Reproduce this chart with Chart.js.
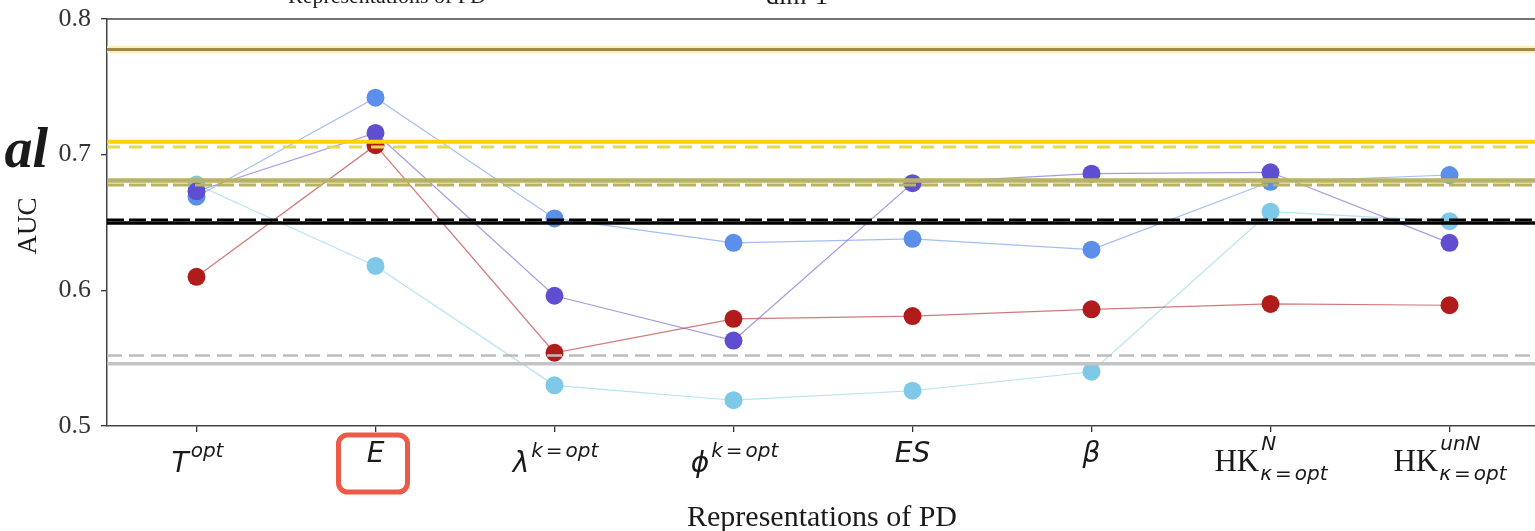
<!DOCTYPE html>
<html>
<head>
<meta charset="utf-8">
<script src="https://cdn.jsdelivr.net/npm/chart.js@4.4.0/dist/chart.umd.min.js"></script>
<style>
  html, body { margin: 0; padding: 0; background: #fff; overflow: hidden; width: 1535px; height: 531px; }
  #wrap { position: relative; width: 1539px; height: 531px; }
  canvas { position: absolute; left: 0; top: 0; }
</style>
</head>
<body>
<div id="wrap"><canvas id="c" width="1539" height="531"></canvas></div>
<script>
// ---- data ----
const categories = ['T^{opt}', 'E', 'λ^{k=opt}', 'ϕ^{k=opt}', 'ES', 'β', 'HK^{N}_{κ=opt}', 'HK^{unN}_{κ=opt}'];
const yTicks = [0.5, 0.6, 0.7, 0.8];

const seriesBlue      = [0.669, 0.742, 0.653, 0.635, 0.638, 0.630, 0.680, 0.685];
const seriesPurple    = [0.673, 0.716, 0.596, 0.563, 0.679, 0.686, 0.687, 0.635];
const seriesRed       = [0.610, 0.707, 0.554, 0.579, 0.581, 0.586, 0.590, 0.589];
const seriesLightBlue = [0.678, 0.618, 0.530, 0.519, 0.526, 0.540, 0.658, 0.651];

// horizontal reference levels
const refBrown       = 0.7775;
const refGoldSolid   = 0.7096;
const refGoldDashed  = 0.7057;
const refOliveSolid  = 0.681;
const refOliveDashed = 0.6777;
const refBlackDashed = 0.652;
const refBlackSolid  = 0.6496;
const refGrayDashed  = 0.5519;
const refGraySolid   = 0.5458;

const xTitle = 'Representations of PD';
const yTitle = 'AUC';

// ---- styles ----
const serif = "'Liberation Serif', 'Times New Roman', serif";
const sans = "'DejaVu Sans', sans-serif";

const refStyles = [
  { v: refBrown,       color: '#fbeec0', width: 7,   dash: [] },
  { v: refBrown,       color: '#a5874a', width: 3,   dash: [] },
  { v: refGoldDashed,  color: '#e8d84e', width: 3,   dash: [13, 9] },
  { v: refGoldSolid,   color: '#ffd200', width: 4,   dash: [] },
  { v: refOliveDashed, color: '#b8b262', width: 3,   dash: [17, 5] },
  { v: refOliveSolid,  color: '#b8b262', width: 4.5, dash: [] },
  { v: refBlackSolid,  color: '#000000', width: 3.5, dash: [] },
  { v: refBlackDashed, color: '#000000', width: 2.5, dash: [17, 5] },
  { v: refGraySolid,   color: '#c4c4c4', width: 3.5, dash: [] },
  { v: refGrayDashed,  color: '#bdbdbd', width: 2.5, dash: [15, 7] }
];

function lineSeries(data, color, lineColor, order) {
  return {
    data, order,
    borderColor: lineColor, borderWidth: 1.2,
    backgroundColor: color, pointBackgroundColor: color, pointBorderColor: color,
    pointRadius: 9, pointBorderWidth: 0, pointHoverRadius: 9,
    tension: 0, fill: false
  };
}

function parseLabel(s) {
  const m = s.match(/^([^\^_]+)(?:\^\{([^}]*)\})?(?:_\{([^}]*)\})?$/);
  return { base: m[1], sup: m[2] || '', sub: m[3] || '' };
}

// script text: italic letters, upright '=' with spacing
function scriptWidth(ctx, s, size) {
  let w = 0;
  for (const ch of s) {
    if (ch === '=') { ctx.font = `${size}px ${sans}`; w += ctx.measureText('=').width + 6; }
    else { ctx.font = `italic ${size}px ${sans}`; w += ctx.measureText(ch).width; }
  }
  return w;
}
function drawScript(ctx, s, size, x, y) {
  for (const ch of s) {
    if (ch === '=') {
      ctx.font = `${size}px ${sans}`;
      x += 3; ctx.fillText('=', x, y); x += ctx.measureText('=').width + 3;
    } else {
      ctx.font = `italic ${size}px ${sans}`;
      ctx.fillText(ch, x, y); x += ctx.measureText(ch).width;
    }
  }
}

const decor = {
  id: 'decor',
  afterDatasetsDraw(chart) {
    const { ctx, chartArea: a, scales: { y } } = chart;
    ctx.save();
    ctx.beginPath(); ctx.rect(a.left, a.top, a.right - a.left, a.bottom - a.top); ctx.clip();
    for (const r of refStyles) {
      const py = y.getPixelForValue(r.v);
      ctx.beginPath();
      ctx.setLineDash(r.dash);
      ctx.lineWidth = r.width; ctx.strokeStyle = r.color;
      ctx.moveTo(a.left, py); ctx.lineTo(a.right, py); ctx.stroke();
    }
    ctx.restore();
  },
  afterDraw(chart) {
    const { ctx, chartArea: a, scales: { x } } = chart;
    ctx.save();
    // top spine
    ctx.strokeStyle = '#444'; ctx.lineWidth = 1.5;
    ctx.beginPath(); ctx.moveTo(a.left, a.top); ctx.lineTo(a.right, a.top); ctx.stroke();

    // category labels
    ctx.fillStyle = '#1a1a1a'; ctx.textBaseline = 'alphabetic'; ctx.textAlign = 'left';
    const sz = 20;
    categories.forEach((lab, i) => {
      const p = parseLabel(lab);
      const cx = x.getPixelForTick(i);
      const isHK = p.base === 'HK';
      const baseFont = isHK ? `31px ${serif}` : `italic 28px ${sans}`;
      ctx.font = baseFont;
      const bw = ctx.measureText(p.base).width;
      const sw = Math.max(scriptWidth(ctx, p.sup, sz), scriptWidth(ctx, p.sub, sz));
      const x0 = cx - (bw + sw) / 2;
      let baseY = 462, supY = 456, subY = 479;
      if (p.sup && !p.sub) { baseY = 472; supY = 457; }
      if (isHK) { baseY = 471; supY = 450; subY = 480; }
      ctx.font = baseFont;
      ctx.fillText(p.base, x0, baseY);
      if (p.sup) drawScript(ctx, p.sup, sz, x0 + bw + 2, supY);
      if (p.sub) drawScript(ctx, p.sub, sz, x0 + bw + 1, subY);
    });

    // axis titles
    ctx.font = `30px ${serif}`; ctx.textAlign = 'center';
    ctx.fillText(xTitle, (a.left + a.right) / 2 - 1, 526);
    ctx.save();
    ctx.translate(36, 226); ctx.rotate(-Math.PI / 2);
    ctx.font = `27px ${serif}`; ctx.fillText(yTitle, 0, 0);
    ctx.restore();

    // captions running in from neighbouring panels
    ctx.font = `22px ${serif}`; ctx.textAlign = 'center';
    ctx.fillText('Representations of PD', 387, 3);
    ctx.font = `26px ${serif}`;
    ctx.fillText('dim-1', 797, 4);
    ctx.font = `bold italic 56px ${serif}`; ctx.textAlign = 'right';
    ctx.fillText('al', 48, 167);

    // highlight box around the E label
    const ex = x.getPixelForTick(1);
    ctx.strokeStyle = '#ec5a48'; ctx.lineWidth = 5;
    ctx.beginPath(); ctx.roundRect(ex - 37, 435, 69, 57, 9); ctx.stroke();
    ctx.restore();
  }
};

new Chart(document.getElementById('c'), {
  type: 'line',
  data: {
    labels: categories,
    datasets: [
      lineSeries(seriesPurple,    '#5f4fd0', 'rgba(106,90,205,0.6)', 1),
      lineSeries(seriesRed,       '#b01c1c', 'rgba(178,34,34,0.6)', 2),
      lineSeries(seriesBlue,      '#5b8fea', 'rgba(100,149,237,0.6)', 3),
      lineSeries(seriesLightBlue, '#7ec8e8', 'rgba(135,206,235,0.6)', 4)
    ]
  },
  options: {
    responsive: false,
    animation: false,
    layout: { autoPadding: false, padding: { top: 19, left: 0, right: 0, bottom: 0 } },
    plugins: { legend: { display: false }, tooltip: { enabled: false } },
    scales: {
      x: {
        type: 'category', offset: true,
        grid: { display: true, drawOnChartArea: false, drawTicks: true, tickLength: 6, color: '#333', lineWidth: 1.3 },
        border: { display: true, color: '#444', width: 1.5 },
        ticks: { display: false },
        afterFit(s) { s.height = 105; s.paddingLeft = 0; s.paddingRight = 0; }
      },
      y: {
        min: 0.5, max: 0.8,
        afterBuildTicks(s) { s.ticks = yTicks.map(v => ({ value: v })); },
        ticks: { font: { family: 'Liberation Serif', size: 26 }, color: '#333', padding: 10, callback: v => Number(v).toFixed(1) },
        grid: { display: true, drawOnChartArea: false, tickLength: 6, color: '#333', lineWidth: 1.3 },
        border: { display: true, color: '#444', width: 1.5 },
        afterFit(s) { s.width = 107; s.paddingTop = 0; s.paddingBottom = 0; }
      }
    }
  },
  plugins: [decor]
});
</script>
</body>
</html>
